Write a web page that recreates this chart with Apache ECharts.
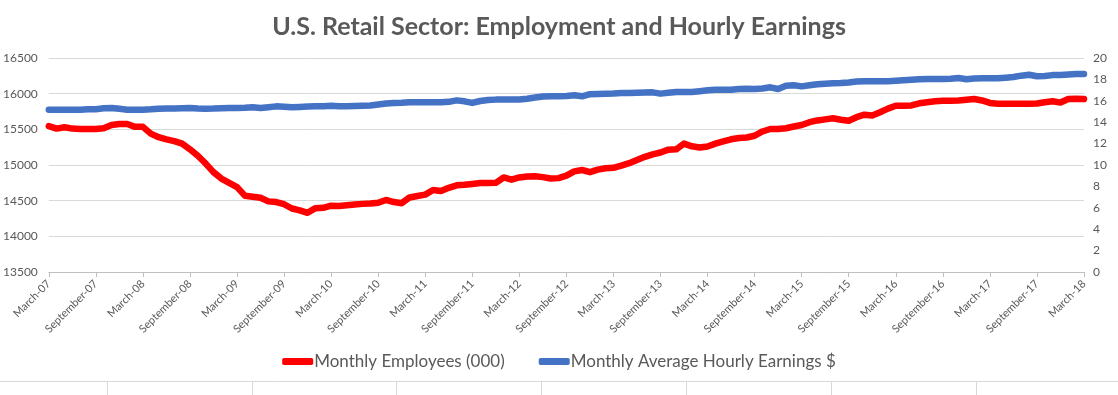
<!DOCTYPE html>
<html>
<head>
<meta charset="utf-8">
<script src="https://cdn.jsdelivr.net/npm/echarts@6/dist/echarts.min.js"></script>
<style>html,body{margin:0;padding:0;background:#fff}#c{width:1118px;height:395px}</style>
</head>
<body>
<div id="c"></div>
<script>
const monthNames = ["March","April","May","June","July","August","September","October","November","December","January","February"];
const categories = [];
(function(){ for (let i = 0; i < 133; i++) { const m = i % 12; const yr = 7 + Math.floor((i + 2) / 12); categories.push(monthNames[m] + "-" + String(yr).padStart(2, "0")); } })();

const employees = [
15545,15510,15530,15510,15505,15505,15505,15515,15560,15575,
15575,15535,15535,15440,15390,15360,15335,15300,15220,15130,
15020,14900,14810,14750,14690,14570,14555,14540,14490,14480,
14450,14390,14365,14330,14395,14400,14430,14425,14435,14445,
14455,14460,14470,14510,14480,14465,14545,14565,14585,14650,
14635,14680,14715,14722,14735,14748,14748,14750,14825,14795,
14825,14840,14842,14830,14810,14816,14850,14910,14930,14900,
14935,14955,14960,14990,15025,15070,15115,15150,15175,15215,
15220,15300,15262,15245,15260,15300,15330,15360,15378,15385,
15410,15470,15505,15505,15515,15540,15560,15600,15625,15640,
15655,15635,15620,15670,15705,15695,15740,15790,15830,15832,
15835,15865,15880,15893,15900,15902,15905,15915,15925,15905,
15870,15860,15860,15860,15860,15860,15862,15880,15893,15875,
15925,15930,15925
];

const earnings = [
15.17,15.17,15.17,15.17,15.17,15.20,15.22,15.30,15.33,15.25,
15.17,15.17,15.17,15.20,15.26,15.27,15.28,15.30,15.33,15.28,
15.26,15.27,15.30,15.32,15.33,15.34,15.40,15.33,15.40,15.48,
15.45,15.39,15.42,15.46,15.48,15.50,15.54,15.50,15.48,15.52,
15.54,15.56,15.65,15.75,15.80,15.82,15.86,15.86,15.86,15.86,
15.86,15.90,16.04,15.95,15.80,15.98,16.08,16.11,16.11,16.11,
16.12,16.20,16.30,16.40,16.42,16.42,16.45,16.51,16.42,16.62,
16.64,16.66,16.68,16.72,16.74,16.75,16.77,16.79,16.67,16.75,
16.82,16.82,16.83,16.90,16.98,17.04,17.04,17.04,17.10,17.12,
17.10,17.15,17.26,17.10,17.40,17.45,17.35,17.45,17.55,17.60,
17.63,17.66,17.72,17.80,17.82,17.82,17.82,17.83,17.88,17.92,
17.97,18.02,18.04,18.04,18.04,18.06,18.13,18.02,18.08,18.10,
18.10,18.10,18.16,18.22,18.35,18.44,18.30,18.32,18.40,18.42,
18.46,18.50,18.50
];

const leftTicks = {min: 13500, max: 16500, interval: 500};
const rightTicks = {min: 0, max: 20, interval: 2};
const seriesNames = ["Monthly Employees (000)", "Monthly Average Hourly Earnings $"];
const titleText = "U.S. Retail Sector: Employment and Hourly Earnings";

const FONT = "Lato";
const GREY = "#595959";
const chart = echarts.init(document.getElementById('c'), null, {renderer: 'canvas'});

const cellLines = [107, 252, 396, 541, 686, 831, 976].map(x => ({
  type: 'line', shape: {x1: x + 0.5, y1: 381, x2: x + 0.5, y2: 395},
  style: {stroke: '#D9D9D9', lineWidth: 1}, silent: true
}));
cellLines.push({type: 'line', shape: {x1: 0, y1: 381.5, x2: 1118, y2: 381.5}, style: {stroke: '#D9D9D9', lineWidth: 1}, silent: true});

chart.setOption({
  animation: false,
  backgroundColor: '#fff',
  title: {
    text: titleText, left: 'center', top: 9,
    textStyle: {fontFamily: FONT, fontWeight: 'bold', fontSize: 25, color: GREY}
  },
  legend: {
    bottom: 20, left: 'center', itemGap: 34, itemWidth: 31, itemHeight: 7,
    icon: 'roundRect',
    textStyle: {fontFamily: FONT, fontSize: 17, color: GREY, padding: [0, 0, 0, -4]},
    data: [
      {name: seriesNames[0], itemStyle: {color: '#FF0000'}},
      {name: seriesNames[1], itemStyle: {color: '#4472C4'}}
    ]
  },
  grid: {left: 48, right: 34, top: 58, bottom: 123, containLabel: false},
  xAxis: {
    type: 'category', data: categories, boundaryGap: false,
    axisLine: {lineStyle: {color: '#BFBFBF'}},
    axisTick: {show: true, interval: 5, length: 5, lineStyle: {color: '#BFBFBF'}},
    axisLabel: {interval: 5, rotate: 45, fontFamily: FONT, fontSize: 11, color: GREY, margin: 10}
  },
  yAxis: [
    {
      type: 'value', min: leftTicks.min, max: leftTicks.max, interval: leftTicks.interval,
      axisLine: {show: false}, axisTick: {show: false},
      axisLabel: {fontFamily: FONT, fontSize: 12, color: GREY, margin: 11, formatter: v => String(v)},
      splitLine: {lineStyle: {color: '#D9D9D9'}}
    },
    {
      type: 'value', min: rightTicks.min, max: rightTicks.max, interval: rightTicks.interval,
      axisLine: {show: false}, axisTick: {show: false},
      axisLabel: {fontFamily: FONT, fontSize: 12, color: GREY, margin: 9},
      splitLine: {show: false}
    }
  ],
  series: [
    {
      name: seriesNames[0], type: 'line', yAxisIndex: 0, data: employees,
      showSymbol: false, symbol: 'none', color: '#FF0000',
      lineStyle: {color: '#FF0000', width: 6.5, cap: 'round', join: 'round'}
    },
    {
      name: seriesNames[1], type: 'line', yAxisIndex: 1, data: earnings,
      showSymbol: false, symbol: 'none', color: '#4472C4',
      lineStyle: {color: '#4472C4', width: 6.5, cap: 'round', join: 'round'}
    }
  ],
  graphic: cellLines
});
</script>
</body>
</html>
